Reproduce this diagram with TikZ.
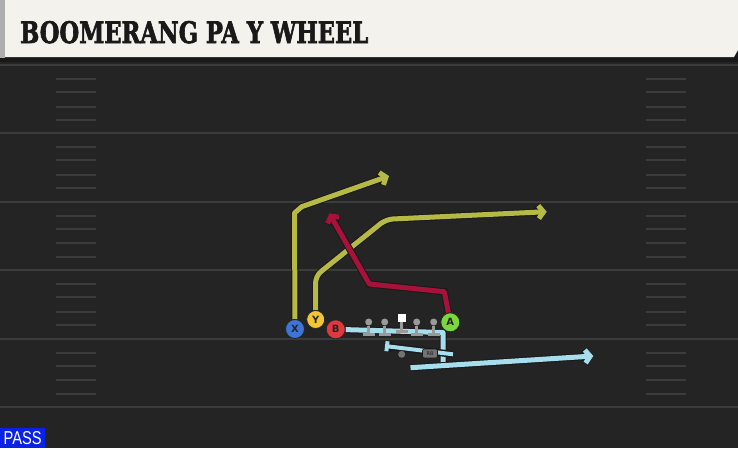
\documentclass[tikz,border=0pt]{standalone}
\usepackage{fontspec}
\setmainfont{DejaVu Sans}
\newfontfamily\titlefont[FakeBold=2.5]{DejaVu Serif Bold}
\newfontfamily\passfont{Liberation Sans}
\usepackage{xcolor}
\usepackage{graphicx}
\usepackage{tikz}
\usetikzlibrary{arrows.meta}
\usetikzlibrary{positioning}
\pgfdeclarelayer{field}
\pgfdeclarelayer{routes}
\pgfsetlayers{field,routes,main}

\definecolor{turf}{HTML}{242424}
\definecolor{yardline}{HTML}{3C3C3C}
\definecolor{cream}{HTML}{F4F2EC}
\definecolor{passblue}{HTML}{0A22E6}
\definecolor{routeyellow}{HTML}{B7B945}
\definecolor{routered}{HTML}{A8123A}
\definecolor{routeblue}{HTML}{A6DEEE}
\definecolor{xblue}{HTML}{3D74D6}
\definecolor{yyellow}{HTML}{F2C531}
\definecolor{bred}{HTML}{E0383F}
\definecolor{agreen}{HTML}{7CD63E}
\definecolor{olgray}{HTML}{9A9A9A}

\begin{document}
\begin{tikzpicture}[x=1pt,y=-1pt,
    player/.style={circle,draw=black!85,line width=0.8pt,minimum size=19pt,inner sep=0pt,
        font=\bfseries\fontsize{10}{10}\selectfont,text=black!85},
    lineman/.style={circle,fill=olgray,minimum size=7pt,inner sep=0pt},
    center/.style={rectangle,fill=white,minimum size=8pt,inner sep=0pt},
    stance/.style={draw=olgray,line width=2.5pt},
    route/.style={draw=#1,line width=5pt,line join=round,
        preaction={draw=black!90,line width=7pt}},
    tip/.style={-{Straight Barb[length=5pt,width=13pt]}},
    hash/.style={draw=yardline,line width=2pt}]
    \useasboundingbox (0,0) rectangle (738,448);

    \begin{pgfonlayer}{field}
        \fill[turf] (0,0) rectangle (738,448);
        \foreach \k in {0,...,5}{
            \draw[yardline,line width=2pt] (0,65+68.4*\k) -- (738,65+68.4*\k);
        }
        \foreach \k in {0,...,4}{
            \foreach \d in {14,27,41.5,55}{
                \draw[hash] (56,65+68.4*\k+\d) -- (96,65+68.4*\k+\d);
                \draw[hash] (646,65+68.4*\k+\d) -- (686,65+68.4*\k+\d);
            }
        }
        \fill[black!90] (0,0) rectangle (738,62);
        \fill[cream] (5,0) -- (738,0) -- (738,50) -- (734,57) -- (5,57) -- cycle;
        \fill[olgray!80] (0,0) rectangle (5,58);
    \end{pgfonlayer}

    \node[anchor=base west,inner sep=0pt,text=black!90] (title) at (20,43)
        {\resizebox{348pt}{22pt}{\titlefont BOOMERANG PA Y WHEEL}};
    \node[fill=passblue,anchor=south west,minimum width=45pt,minimum height=20pt,inner sep=0pt,
        text=white] (pass) at (0,448) {\resizebox{38pt}{13pt}{\passfont PASS}};

    \node[player,fill=xblue] (X) at (295,329) {X};
    \node[player,fill=yyellow,minimum size=18pt] (Y) at (315.7,319.5) {Y};
    \node[player,fill=bred] (B) at (335.7,329.3) {B};
    \node[player,fill=agreen] (A) at (450.3,322.3) {A};

    \foreach \n/\x in {LT/368.7,LG/384.7,RG/416.7,RT/433.7}{
        \node[lineman] (\n) at (\x,322) {};
        \draw[stance] (\n.south) -- ++(0,9);
        \draw[stance] ([xshift=-6pt,yshift=-9pt]\n.south) -- ++(12,0);
    }
    \node[center] (C) at (401.7,317.5) {};
    \draw[stance] (C.south) -- ++(0,10);
    \draw[stance] ([xshift=-6pt,yshift=-10pt]C.south) -- ++(12,0);

    \node[circle,fill=black!55,minimum size=7pt,inner sep=0pt] (QB) at (401.7,354.3) {};
    \node[rectangle,rounded corners=2pt,fill=black!55,draw=black!90,line width=0.6pt,
        minimum width=15pt,minimum height=9pt,inner sep=0pt,
        font=\fontsize{5}{5}\selectfont,text=black!90] (RB) at (430,353.5) {RB};

    \coordinate (Xa) at (294.5,213);
    \coordinate (Xb) at (301.7,206.7);
    \coordinate (Xend) at (389,176);
    \coordinate (Ya) at (315.5,276);
    \coordinate (Yb) at (386,219.3);
    \coordinate (Yend) at (546.7,211.7);
    \coordinate (Aa) at (444.3,291.7);
    \coordinate (Ab) at (369.3,284);
    \coordinate (Aend) at (329.3,213.3);
    \coordinate (Ba) at (443,332.5);
    \coordinate (Bb) at (443,368);
    \coordinate (Fa) at (410.5,367.7);
    \coordinate (Fend) at (593.3,356);
    \coordinate (RBa) at (453,354.3);
    \coordinate (RBend) at (385,346);

    \begin{pgfonlayer}{routes}
        \draw[route=routeyellow,tip] (X) -- (Xa) -- (Xb) -- (Xend);
        \draw[route=routeyellow,tip,rounded corners=7pt] (Y) -- (Ya) -- (Yb) -- (Yend);
        \draw[route=routered,tip] (A) -- (Aa) -- (Ab) -- (Aend);
        \draw[route=routeblue] (B) -- (Ba) -- (Bb);
        \draw[route=routeblue,tip] (Fa) -- (Fend);
        \draw[route=routeblue,line width=4pt,-{Bar[width=10pt]}] (RBa) -- (RBend);
    \end{pgfonlayer}
\end{tikzpicture}
\end{document}
